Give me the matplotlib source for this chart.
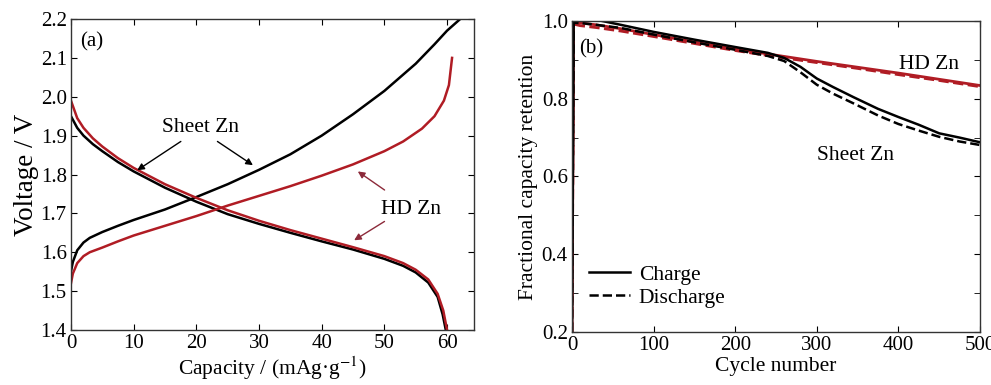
import matplotlib
matplotlib.use("Agg")
import matplotlib.pyplot as plt

plt.rcParams['font.family'] = ['Liberation Serif', 'DejaVu Serif']
plt.rcParams['mathtext.fontset'] = 'stix'

RED = '#b01c24'

# (a) voltage profiles
sheet_chg_x = [0, 0.3, 1, 2, 3, 5, 7.5, 10, 15, 20, 25, 30, 35, 40, 45, 50, 55, 58, 60, 62.1]
sheet_chg_y = [1.55, 1.575, 1.605, 1.625, 1.637, 1.652, 1.668, 1.683, 1.71, 1.742, 1.775, 1.812, 1.852, 1.9, 1.955, 2.015, 2.085, 2.135, 2.17, 2.2]
hd_chg_x = [0, 0.3, 1, 2, 3, 5, 7.5, 10, 15, 20, 25, 30, 35, 40, 45, 50, 53, 56, 58, 59.5, 60.3, 60.8]
hd_chg_y = [1.52, 1.545, 1.572, 1.59, 1.6, 1.612, 1.628, 1.643, 1.668, 1.693, 1.72, 1.745, 1.77, 1.797, 1.826, 1.86, 1.885, 1.918, 1.95, 1.99, 2.03, 2.1]
sheet_dis_x = [0, 1, 2, 3.5, 5, 7.5, 10, 15, 20, 25, 30, 35, 40, 45, 50, 53, 55, 57, 58.5, 59.3, 59.8]
sheet_dis_y = [1.95, 1.92, 1.9, 1.878, 1.86, 1.832, 1.808, 1.766, 1.73, 1.698, 1.673, 1.65, 1.628, 1.607, 1.583, 1.565, 1.548, 1.522, 1.485, 1.44, 1.4]
hd_dis_x = [0, 1, 2, 3.5, 5, 7.5, 10, 15, 20, 25, 30, 35, 40, 45, 50, 53, 55, 57, 58.5, 59.4, 60.0]
hd_dis_y = [1.99, 1.945, 1.92, 1.893, 1.872, 1.842, 1.817, 1.775, 1.74, 1.708, 1.681, 1.657, 1.635, 1.613, 1.59, 1.572, 1.555, 1.53, 1.493, 1.45, 1.4]

# (b) capacity retention vs cycle
cyc = [0, 2, 10, 30, 60, 100, 150, 200, 240, 260, 280, 300, 320, 345, 375, 400, 425, 450, 475, 500]
sheet_chg = [0.2, 1.0, 1.005, 1.003, 0.99, 0.972, 0.952, 0.933, 0.918, 0.905, 0.882, 0.852, 0.83, 0.804, 0.774, 0.753, 0.733, 0.711, 0.7, 0.688]
sheet_dis = [0.2, 0.995, 0.995, 0.99, 0.982, 0.965, 0.945, 0.926, 0.91, 0.897, 0.868, 0.836, 0.813, 0.788, 0.757, 0.735, 0.718, 0.702, 0.69, 0.681]
hd_cyc = [0, 2, 10, 30, 60, 100, 150, 200, 250, 300, 350, 400, 450, 500]
hd_chg = [0.2, 1.0, 0.995, 0.99, 0.98, 0.965, 0.946, 0.928, 0.912, 0.896, 0.881, 0.866, 0.85, 0.834]
hd_dis = [0.2, 0.992, 0.988, 0.983, 0.974, 0.96, 0.942, 0.924, 0.908, 0.893, 0.878, 0.862, 0.847, 0.831]

fig = plt.figure(figsize=(9.91, 3.85), dpi=100)
ax1 = fig.add_axes([0.0716, 0.1429, 0.4067, 0.8077])
ax2 = fig.add_axes([0.5772, 0.1377, 0.4117, 0.8078])

ax1.plot(sheet_chg_x, sheet_chg_y, color='black', lw=1.8)
ax1.plot(sheet_dis_x, sheet_dis_y, color='black', lw=1.8)
ax1.plot(hd_chg_x, hd_chg_y, color=RED, lw=1.8)
ax1.plot(hd_dis_x, hd_dis_y, color=RED, lw=1.8)
ax1.set_xlim(0, 64.3)
ax1.set_ylim(1.4, 2.2)
ax1.set_xticks(range(0, 61, 10))
ax1.set_yticks([1.4 + 0.1 * i for i in range(9)])
ax1.set_yticklabels(['%.1f' % (1.4 + 0.1 * i) for i in range(9)])
ax1.set_xlabel('Capacity / (mAg·g$^{-1}$)', fontsize=15.5, labelpad=1)
ax1.set_ylabel('Voltage / V', fontsize=19.5, labelpad=1)
ax1.text(1.4, 2.142, '(a)', fontsize=15, va='center')

ax1.text(20.6, 1.92, 'Sheet Zn', fontsize=15.5, ha='center', va='center')
akw = dict(arrowstyle='-|>', color='black', lw=1.0, mutation_scale=10)
ax1.annotate('', xy=(10.2, 1.807), xytext=(17.9, 1.889), arrowprops=akw)
ax1.annotate('', xy=(29.4, 1.82), xytext=(23.0, 1.889), arrowprops=akw)
ax1.text(54.3, 1.709, 'HD Zn', fontsize=15.5, ha='center', va='center')
rkw = dict(arrowstyle='-|>', color='#8c2a3a', lw=1.0, mutation_scale=10)
ax1.annotate('', xy=(45.4, 1.812), xytext=(50.4, 1.756), arrowprops=rkw)
ax1.annotate('', xy=(44.8, 1.627), xytext=(50.4, 1.683), arrowprops=rkw)

ax2.plot(hd_cyc, hd_chg, color=RED, lw=2.0)
ax2.plot(hd_cyc, hd_dis, color=RED, lw=2.0, ls='--')
ax2.plot(cyc, sheet_chg, color='black', lw=1.8, label='Charge')
ax2.plot(cyc, sheet_dis, color='black', lw=1.8, ls='--', label='Discharge')
ax2.set_xlim(0, 500)
ax2.set_ylim(0.2, 1.0)
ax2.set_xticks(range(0, 501, 100))
ax2.set_yticks([0.2, 0.4, 0.6, 0.8, 1.0])
ax2.set_yticks([0.3, 0.5, 0.7, 0.9], minor=True)
ax2.set_xlabel('Cycle number', fontsize=15.5, labelpad=1)
ax2.set_ylabel('Fractional capacity retention', fontsize=15.5, labelpad=3)
ax2.text(9, 0.928, '(b)', fontsize=15, va='center')
ax2.text(437, 0.889, 'HD Zn', fontsize=15.5, ha='center', va='center')
ax2.text(347, 0.655, 'Sheet Zn', fontsize=15.5, ha='center', va='center')
ax2.legend(loc='lower left', bbox_to_anchor=(-0.005, 0.015), frameon=False,
           fontsize=15.5, handlelength=1.9, handletextpad=0.4, labelspacing=0.15)

for ax in (ax1, ax2):
    ax.tick_params(which='both', direction='in', top=True, right=True,
                   labelsize=15, pad=3)
    ax.tick_params(which='major', length=4)
    ax.tick_params(which='minor', length=4)
    for s in ax.spines.values():
        s.set_linewidth(1.0)
        s.set_color('#333333')

fig.savefig('out.png', dpi=100)
